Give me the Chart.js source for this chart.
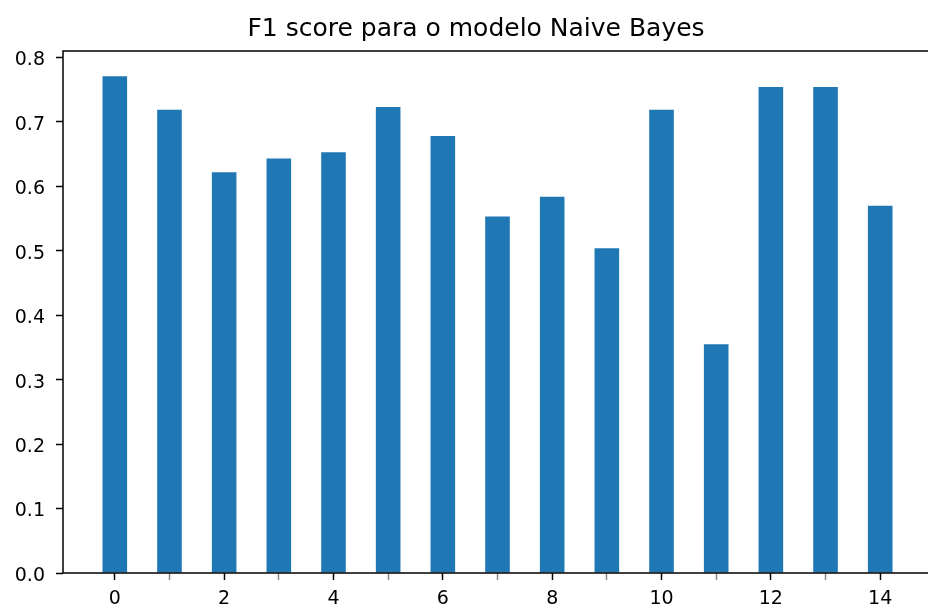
<!DOCTYPE html>
<html>
<head>
<meta charset="utf-8">
<script src="https://cdn.jsdelivr.net/npm/chart.js@4/dist/chart.umd.min.js"></script>
<style>
  html, body { margin: 0; padding: 0; background: #fff; overflow: hidden; width: 928px; height: 608px; }
  #wrap { position: absolute; left: 0; top: 0; width: 950px; height: 608px; }
</style>
</head>
<body>
<div id="wrap"><canvas id="c" width="950" height="608"></canvas></div>
<script>
const categories = [0, 1, 2, 3, 4, 5, 6, 7, 8, 9, 10, 11, 12, 13, 14];
const f1Scores = [0.771, 0.719, 0.622, 0.643, 0.653, 0.723, 0.678, 0.553, 0.584, 0.504, 0.719, 0.355, 0.754, 0.754, 0.570];
const yTicks = [0.0, 0.1, 0.2, 0.3, 0.4, 0.5, 0.6, 0.7, 0.8];
const xTicks = [0, 1, 2, 3, 4, 5, 6, 7, 8, 9, 10, 11, 12, 13, 14];
const titleText = 'F1 score para o modelo Naive Bayes';

const FONT = 'DejaVu Sans';

const frame = {
  id: 'frame',
  afterDraw(chart) {
    const a = chart.chartArea, ctx = chart.ctx;
    ctx.save();
    ctx.strokeStyle = '#000';
    ctx.lineWidth = 1.5;
    ctx.strokeRect(a.left, a.top, a.right - a.left, a.bottom - a.top);
    ctx.fillStyle = '#000';
    ctx.font = '25px "' + FONT + '"';
    ctx.textAlign = 'center';
    ctx.textBaseline = 'alphabetic';
    ctx.fillText(titleText, 476, 36);
    ctx.restore();
  }
};

new Chart(document.getElementById('c'), {
  type: 'bar',
  data: {
    datasets: [{
      label: titleText,
      data: categories.map((c, i) => ({ x: c, y: f1Scores[i] })),
      backgroundColor: '#1f77b4',
      borderWidth: 0,
      categoryPercentage: 1,
      barPercentage: 0.45
    }]
  },
  options: {
    responsive: false,
    animation: false,
    layout: { padding: { left: 0, right: 18, top: 51, bottom: 0 } },
    plugins: {
      legend: { display: false },
      tooltip: { enabled: false },
      title: { display: false }
    },
    scales: {
      x: {
        type: 'linear',
        offset: false,
        min: -0.9475,
        max: 14.9475,
        afterBuildTicks: s => { s.ticks = xTicks.map(v => ({ value: v })); },
        afterFit: s => { s.height = 35; },
        ticks: {
          autoSkip: false,
          maxRotation: 0,
          includeBounds: false,
          padding: 8,
          color: '#000',
          font: { family: FONT, size: 19 },
          callback: v => (v % 2 === 0 ? String(v) : '')
        },
        grid: {
          offset: false,
          drawOnChartArea: false,
          drawTicks: true,
          tickLength: 7,
          tickWidth: 1.5,
          tickColor: ctx => (ctx.tick && ctx.tick.value % 2 !== 0 ? '#888' : '#000')
        },
        border: { display: false }
      },
      y: {
        min: 0,
        max: 0.81,
        afterBuildTicks: s => { s.ticks = yTicks.map(v => ({ value: v })); },
        afterFit: s => { s.width = 63; },
        ticks: {
          includeBounds: false,
          padding: 11,
          labelOffset: 3,
          color: '#000',
          font: { family: FONT, size: 19 },
          callback: v => Number(v).toFixed(1)
        },
        grid: {
          drawOnChartArea: false,
          drawTicks: true,
          tickLength: 7,
          tickWidth: 1.5,
          tickColor: '#000'
        },
        border: { display: false }
      }
    }
  },
  plugins: [frame]
});
</script>
</body>
</html>
